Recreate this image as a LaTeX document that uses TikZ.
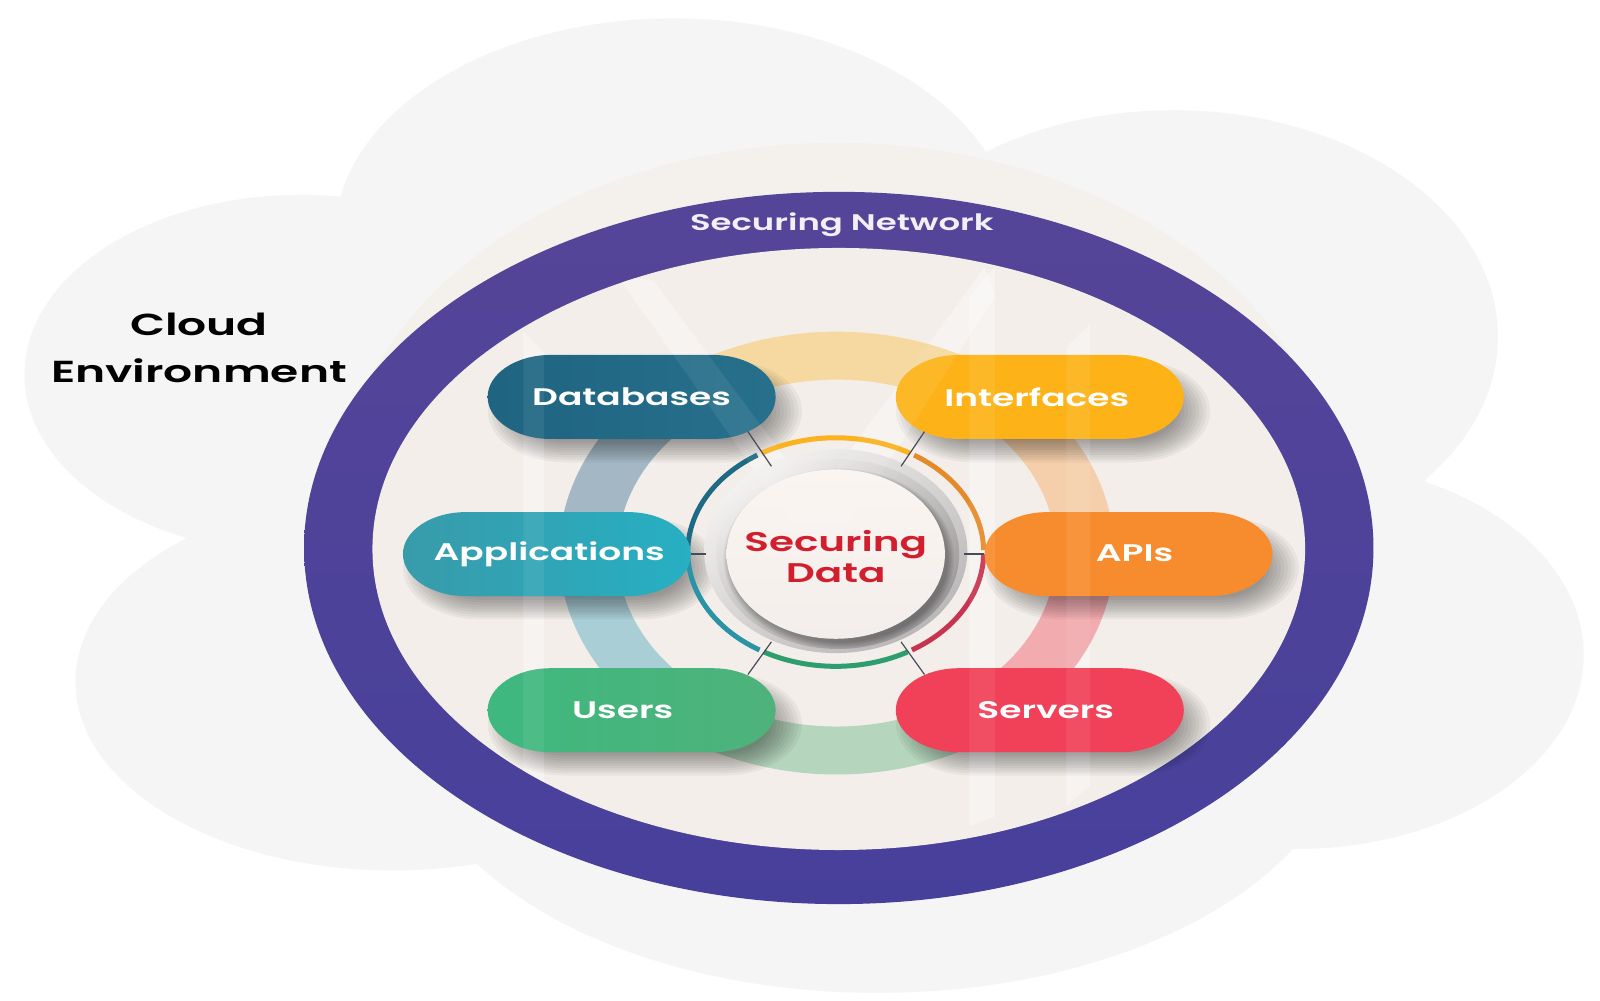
\documentclass[tikz,border=0pt]{standalone}
\usepackage{fontspec}
\setmainfont{Poppins}[BoldFont={Poppins SemiBold}]
\usetikzlibrary{shapes.geometric,shapes.misc}
\definecolor{cloudc}{HTML}{F5F5F5}
\definecolor{haloc}{HTML}{F4F0EC}
\definecolor{innerc}{HTML}{F3EEEA}
\definecolor{labc}{HTML}{F3EFF7}
\definecolor{nettop}{RGB}{85,69,152}
\definecolor{netbot}{RGB}{71,64,155}
\definecolor{seg1}{RGB}{245,217,160}
\definecolor{seg2}{RGB}{245,207,171}
\definecolor{seg3}{RGB}{242,171,175}
\definecolor{seg4}{RGB}{181,214,189}
\definecolor{seg5}{RGB}{169,206,214}
\definecolor{seg6}{RGB}{164,183,196}
\definecolor{thin1}{RGB}{250,178,30}
\definecolor{thin2}{RGB}{228,138,43}
\definecolor{thin3}{RGB}{200,52,79}
\definecolor{thin4}{RGB}{47,158,110}
\definecolor{thin5}{RGB}{42,147,166}
\definecolor{thin6}{RGB}{30,106,133}
\definecolor{dbl}{RGB}{31,100,128}
\definecolor{dbr}{RGB}{39,112,140}
\definecolor{ifcc}{RGB}{253,179,24}
\definecolor{appl}{RGB}{56,155,170}
\definecolor{appr}{RGB}{39,175,195}
\definecolor{apic}{RGB}{247,140,46}
\definecolor{usrl}{RGB}{62,184,127}
\definecolor{usrr}{RGB}{78,178,123}
\definecolor{srvc}{RGB}{240,65,89}
\definecolor{coret}{RGB}{251,245,242}
\definecolor{coreb}{RGB}{243,238,235}
\definecolor{redtxt}{RGB}{209,31,46}
\definecolor{tickc}{RGB}{70,75,90}
\definecolor{lay1t}{RGB}{244,242,240}
\definecolor{lay1b}{RGB}{185,183,183}
\definecolor{lay2t}{RGB}{242,240,238}
\definecolor{lay2b}{RGB}{150,148,148}
\newcommand{\ringsect}[3]{%
  \fill[#3] plot[domain=#1:#2,samples=40] ({820+272*cos(\x)},{542-217*sin(\x)})
    -- plot[domain=#2:#1,samples=40] ({820+215*cos(\x)},{542-170*sin(\x)}) -- cycle;}
\newcommand{\thinsect}[3]{%
  \draw[#3,line width=5pt] plot[domain=#1:#2,samples=40] ({819+145*cos(\x)},{541-112*sin(\x)});}
\newcommand{\softpill}[5]{% cx cy half-straight half-height opacity
  \fill[black,opacity=#5]
    plot[domain=-90:90,samples=30] ({#1+#3+1.5*(#4)*cos(\x)},{#2+(#4)*sin(\x)})
    -- plot[domain=90:270,samples=30] ({#1-#3+1.5*(#4)*cos(\x)},{#2+(#4)*sin(\x)}) -- cycle;}
\newcommand{\pillshadow}[2]{% cx cy of pill
  \foreach \k in {0,...,9}{\softpill{#1+13}{#2+14}{79}{50-\k*2.4}{0.042}}}
\newcommand{\wmarks}{%
  \fill (513,325) -- (533,345) -- (533,790) -- (513,765) -- cycle;
  \fill (605,270) -- (640,275) -- (815,510) -- (795,540) -- cycle;
  \fill (965,262) -- (975,290) -- (815,540) -- (790,500) -- cycle;
  \fill (950,290) -- (975,262) -- (975,800) -- (950,810) -- cycle;
  \fill (1045,340) -- (1068,318) -- (1068,770) -- (1045,790) -- cycle;}
\tikzset{
  wide/.style={xscale=1.5,transform shape},
  pillnode/.style={wide,rounded rectangle,minimum width=192pt,minimum height=84pt,inner sep=0pt,
    text=white,font=\fontsize{24}{28}\selectfont\bfseries},
  tick/.style={draw=tickc,line width=1.2pt},
}
\begin{document}
\begin{tikzpicture}[x=1.0204pt,y=-1.0204pt]
\useasboundingbox (0,0) rectangle (1568,980);
\fill[white] (0,0) rectangle (1568,980);
% cloud
\fill[cloudc] (660,232) ellipse [x radius=332,y radius=214];
\fill[cloudc] (1150,330) ellipse [x radius=318,y radius=222];
\fill[cloudc] (295,367) ellipse [x radius=271,y radius=176];
\fill[cloudc] (385,668) ellipse [x radius=311,y radius=185];
\fill[cloudc] (860,705) ellipse [x radius=462,y radius=268];
\fill[cloudc] (1270,642) ellipse [x radius=282,y radius=190];
\fill[cloudc] (800,500) ellipse [x radius=600,y radius=300];
% halo behind the network ring
\fill[haloc] (820,500) ellipse [x radius=490,y radius=360];
% network ring
\shade[top color=nettop,bottom color=netbot] (822,537) ellipse [x radius=524,y radius=349];
\fill[innerc] (822,538) ellipse [x radius=457,y radius=295];
% watermark under the rings
\begin{scope}
\clip (822,538) ellipse [x radius=457,y radius=295];
\begin{scope}[white,opacity=.35]\wmarks\end{scope}
\end{scope}
% middle ring
\ringsect{60}{120}{seg1}
\ringsect{0}{60}{seg2}
\ringsect{-60}{0}{seg3}
\ringsect{240}{300}{seg4}
\ringsect{180}{240}{seg5}
\ringsect{120}{180}{seg6}
% pill shadows
\pillshadow{619}{389}
\pillshadow{1019}{389}
\pillshadow{536}{543}
\pillshadow{1106}{543}
\pillshadow{619}{696}
\pillshadow{1019}{696}
% thin coloured ring
\thinsect{60}{120}{thin1}
\thinsect{1}{58}{thin2}
\thinsect{-59}{-1}{thin3}
\thinsect{241}{299}{thin4}
\thinsect{181}{239}{thin5}
\thinsect{122}{179}{thin6}
% stacked discs
\shade[top color=lay1t,bottom color=lay1b,shading angle=35] (819,540) ellipse [x radius=129,y radius=100];
\shade[top color=lay2t,bottom color=lay2b,shading angle=35] (821,543) ellipse [x radius=119,y radius=93];
\foreach \k in {0,...,6}{\fill[black,opacity=.04] (822,547) ellipse [x radius={113-\k*1.0},y radius={88-\k*0.9}];}
\shade[top color=coret,bottom color=coreb] (819,543) ellipse [x radius=107,y radius=83];
% pills
\node[pillnode,left color=dbl,right color=dbr] (db) at (619,389) {Databases};
\node[pillnode,fill=ifcc] (ifc) at (1019,389) {Interfaces\kern4pt};
\node[pillnode,left color=appl,right color=appr] (app) at (536,543) {\hspace{3pt}\raisebox{2pt}{Applications}};
\node[pillnode,fill=apic] (api) at (1106,543) {\hspace{8pt}\raisebox{2pt}{APIs}};
\node[pillnode,left color=usrl,right color=usrr] (usr) at (619,696) {\raisebox{-1pt}{Users}\kern12pt};
\node[pillnode,fill=srvc] (srv) at (1019,696) {\hspace{8pt}\raisebox{-1pt}{Servers}};
% watermark over the pills and the disc
\begin{scope}
\clip (822,538) ellipse [x radius=457,y radius=295];
\begin{scope}[white,opacity=.07]\wmarks\end{scope}
\end{scope}
% core label
\node[wide,inner sep=0pt,text=redtxt,align=center,
  font=\fontsize{27}{31}\selectfont\bfseries] (core) at (819,545) {Securing\\Data};
% connectors
\coordinate (dbtip) at (756,457);
\coordinate (ifctip) at (883,457);
\coordinate (apptip) at (692,543);
\coordinate (apitip) at (945,543);
\coordinate (usrtip) at (756,629);
\coordinate (srvtip) at (883,629);
\draw[tick] ([shift={(114,34)}]db.center) -- (dbtip);
\draw[tick] ([shift={(-113,34)}]ifc.center) -- (ifctip);
\draw[tick] (app.east) -- (apptip);
\draw[tick] (api.west) -- (apitip);
\draw[tick] ([shift={(114,-35)}]usr.center) -- (usrtip);
\draw[tick] ([shift={(-113,-35)}]srv.center) -- (srvtip);
% labels
\node[wide,text=labc,font=\fontsize{22.6}{26}\selectfont\bfseries] (net) at (825,220) {Securing Network};
\node[wide,text=black,align=center,font=\fontsize{30.4}{47}\selectfont\bfseries] (cloud) at (195,341) {Cloud\\Environment};
\end{tikzpicture}
\end{document}
